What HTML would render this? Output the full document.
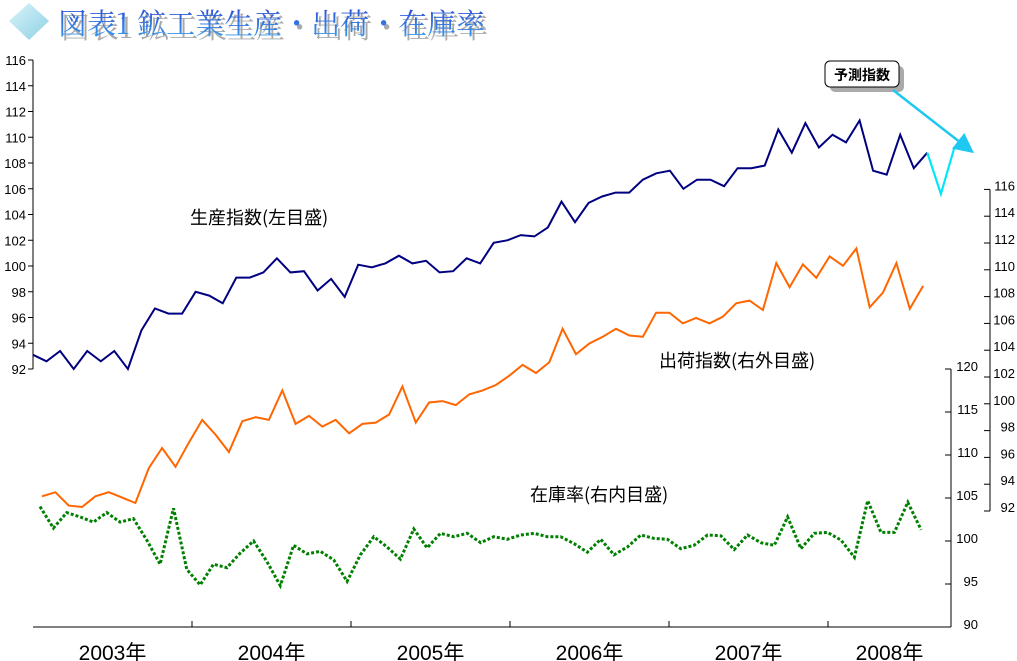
<!DOCTYPE html>
<html><head><meta charset="utf-8"><style>
html,body{margin:0;padding:0;background:#fff;}
svg{display:block;font-family:"Liberation Sans","Noto Sans CJK JP",sans-serif;}
.jl{font-family:"Noto Sans CJK JP",sans-serif;}
</style></head><body>
<svg id="chart" width="1017" height="661" viewBox="0 0 1017 661" xmlns="http://www.w3.org/2000/svg">
<defs>
<linearGradient id="tg" x1="0" y1="0" x2="0" y2="1"><stop offset="0" stop-color="#2a3fd0"/><stop offset="1" stop-color="#3aa8f0"/></linearGradient>
<linearGradient id="dg" x1="0" y1="0" x2="1" y2="1"><stop offset="0" stop-color="#d8f4fa"/><stop offset="1" stop-color="#8fd0e4"/></linearGradient>
<marker id="ah" markerWidth="8" markerHeight="8" refX="6" refY="4" orient="auto"><path d="M0,0 L8,4 L0,8 z" fill="#1ec8f0"/></marker>
</defs>
<g>
<polygon points="29,3 49,21 29,40 9,21" fill="url(#dg)"/>
<text x="61" y="38" font-size="29" fill="#aaa" font-family="'Noto Serif CJK SC','Noto Sans CJK JP',serif">図表1 鉱工業生産・出荷・在庫率</text>
<text x="58" y="34" font-size="29" fill="url(#tg)" font-family="'Noto Serif CJK SC','Noto Sans CJK JP',serif">図表1 鉱工業生産・出荷・在庫率</text>
</g>
<g id="axes"></g>
<g id="series"></g>
<text class="jl" x="190" y="224" font-size="18">生産指数(左目盛)</text>
<text class="jl" x="659" y="367" font-size="18">出荷指数(右外目盛)</text>
<text class="jl" x="530" y="501" font-size="18">在庫率(右内目盛)</text>
<g>
<rect x="830" y="66" width="74" height="26" rx="5" fill="#aaa"/>
<rect x="825" y="61" width="74" height="26" rx="5" fill="#fff" stroke="#000" stroke-width="1"/>
<text x="862" y="80" font-size="14" font-weight="bold" text-anchor="middle">予測指数</text>
<line x1="893" y1="90" x2="970" y2="150" stroke="#1ec8f0" stroke-width="2.5" marker-end="url(#ah)"/>
</g>
</svg>
<script>
const months = 67;
const production = [93.1,92.6,93.4,92.0,93.4,92.6,93.4,92.0,95.0,96.7,96.3,96.3,
98.0,97.7,97.1,99.1,99.1,99.5,100.6,99.5,99.6,98.1,99.0,97.6,
100.1,99.9,100.2,100.8,100.2,100.4,99.5,99.6,100.6,100.2,101.8,102.0,
102.4,102.3,103.0,105.0,103.4,104.9,105.4,105.7,105.7,106.7,107.2,107.4,
106.0,106.7,106.7,106.2,107.6,107.6,107.8,110.6,108.8,111.1,109.2,110.2,
109.6,111.3,107.4,107.1,110.2,107.6,108.8];
const forecast = [108.8,105.6,109.2];
const shipment = [93.1,93.4,92.4,92.3,93.1,93.4,93.0,92.6,95.2,96.7,95.3,97.1,
98.8,97.7,96.4,98.7,99.0,98.8,101.0,98.5,99.1,98.3,98.8,97.8,
98.5,98.6,99.2,101.3,98.6,100.1,100.2,99.9,100.7,101.0,101.4,102.1,
102.9,102.3,103.1,105.6,103.7,104.5,105.0,105.6,105.1,105.0,106.8,106.8,
106.0,106.4,106.0,106.5,107.5,107.7,107.0,110.5,108.7,110.4,109.4,111.0,
110.3,111.6,107.2,108.3,110.5,107.1,108.8];
const inventory = [104.0,101.5,103.3,102.8,102.2,103.3,102.2,102.6,100.1,97.3,103.8,96.7,
94.9,97.3,96.9,98.6,100.0,97.6,94.8,99.5,98.5,98.8,97.8,95.3,
98.4,100.5,99.3,97.9,101.4,99.2,100.9,100.5,100.9,99.8,100.5,100.2,
100.7,100.9,100.5,100.5,99.7,98.7,100.2,98.4,99.3,100.7,100.3,100.2,
99.1,99.5,100.7,100.6,99.0,100.7,99.8,99.5,102.8,99.1,100.9,101.0,
100.1,98.1,104.7,101.0,101.0,104.5,101.3];
const years = ["2003年","2004年","2005年","2006年","2007年","2008年"];
const leftTicks = [92,94,96,98,100,102,104,106,108,110,112,114,116];
const outerTicks = [92,94,96,98,100,102,104,106,108,110,112,114,116];
const innerTicks = [90,95,100,105,110,115,120];

const NS="http://www.w3.org/2000/svg";
const axes=document.getElementById('axes'), ser=document.getElementById('series');
function mk(tag,attrs,parent){const e=document.createElementNS(NS,tag);for(const k in attrs)e.setAttribute(k,attrs[k]);parent.appendChild(e);return e;}
const yLeft=v=>369-(v-92)*(309/24);
const yOuter=v=>511-(v-92)*13.4;
const yInner=v=>627-(v-90)*(258/30);
const xProd=i=>33+i*13.55;
const xShip=i=>42+i*13.35;
const xInv=i=>40+i*13.35;
const xYear=k=>Math.min(951,33+k*159);

let l=mk('line',{x1:33,y1:yLeft(116),x2:33,y2:yLeft(92),stroke:'#000'},axes);


leftTicks.forEach(v=>{
  mk('line',{x1:28,y1:yLeft(v),x2:33,y2:yLeft(v),stroke:'#000'},axes);
  const t=mk('text',{x:26,y:yLeft(v)+5,'font-size':13,'text-anchor':'end'},axes);
  
  
  t.textContent=v;
});
l=mk('line',{x1:990,y1:yOuter(116),x2:990,y2:yOuter(92),stroke:'#000'},axes);


outerTicks.forEach(v=>{
  mk('line',{x1:984,y1:yOuter(v),x2:990,y2:yOuter(v),stroke:'#000'},axes);
  const t=mk('text',{x:1015,y:yOuter(v)+1,'font-size':13,'text-anchor':'end'},axes);
  
  
  t.textContent=v;
});
l=mk('line',{x1:951,y1:yInner(120),x2:951,y2:yInner(90),stroke:'#000'},axes);


innerTicks.forEach(v=>{
  mk('line',{x1:945,y1:yInner(v),x2:951,y2:yInner(v),stroke:'#000'},axes);
  const t=mk('text',{x:978,y:yInner(v)+2,'font-size':13,'text-anchor':'end'},axes);
  
  
  t.textContent=v;
});
l=mk('line',{x1:33,y1:627,x2:951,y2:627,stroke:'#000'},axes);


years.forEach((y,k)=>{
  const x0=xYear(k), x1=xYear(k+1);
  if(k>0){mk('line',{x1:x0,y1:621,x2:x0,y2:627,stroke:'#000'},axes);}
  const t=mk('text',{x:(x0+x1)/2,y:660,'font-size':21,'text-anchor':'middle'},axes);
  
  
  t.textContent=y;
});
function path(vals,xf,yf,off){return vals.map((v,i)=>(i?'L':'M')+xf(i+off).toFixed(1)+','+yf(v).toFixed(1)).join(' ');}
let p=mk('path',{d:path(shipment,xShip,yOuter,0),fill:'none',stroke:'#ff6600','stroke-width':2},ser);


p=mk('path',{d:path(inventory,xInv,yInner,0),fill:'none',stroke:'#008000','stroke-width':3,'stroke-dasharray':'3,2'},ser);


p=mk('path',{d:path(production,xProd,yLeft,0),fill:'none',stroke:'#000080','stroke-width':2},ser);


p=mk('path',{d:path(forecast,xProd,yLeft,months-1),fill:'none',stroke:'#00e8f8','stroke-width':2.2},ser);


</script>
</body></html>
